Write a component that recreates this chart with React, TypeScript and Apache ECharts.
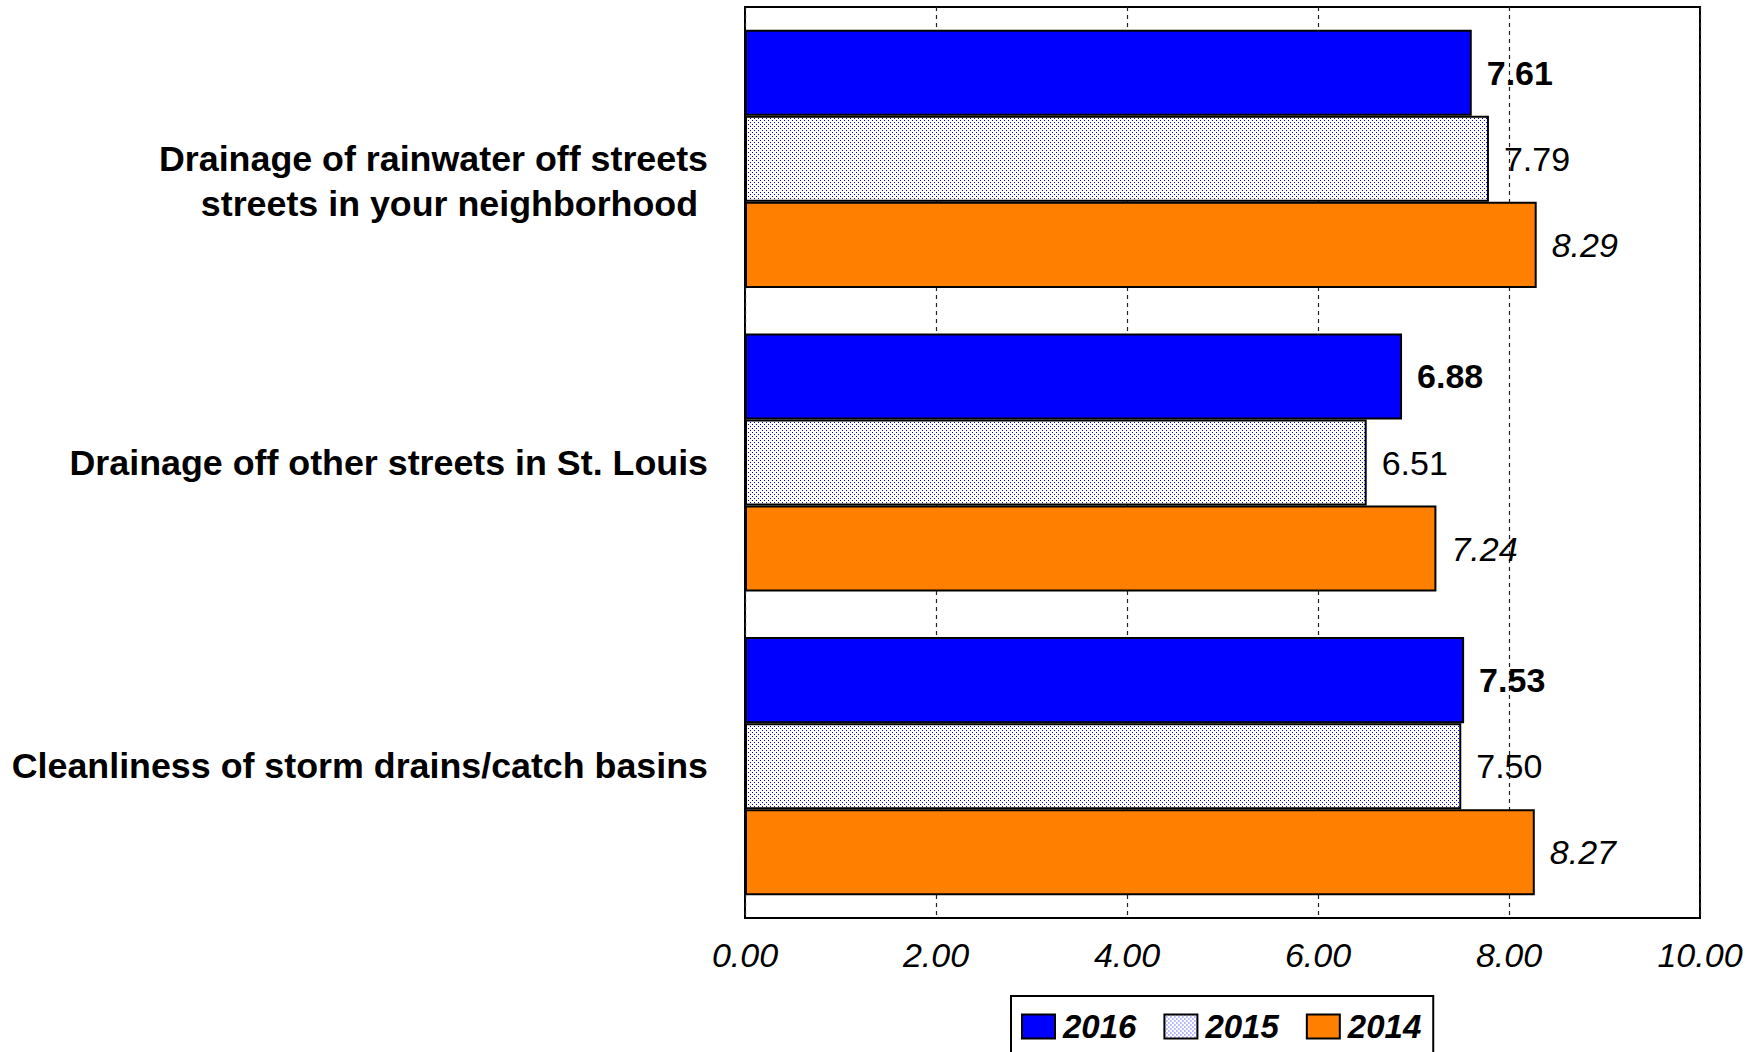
import React, { useEffect, useRef } from "react";
import * as echarts from "echarts";

const categories = [
  "Drainage of rainwater off streets\nstreets in your neighborhood ",
  "Drainage off other streets in St. Louis",
  "Cleanliness of storm drains/catch basins",
];
const seriesNames = ["2016", "2015", "2014"];
const values2016 = [7.61, 6.88, 7.53];
const values2015 = [7.79, 6.51, 7.5];
const values2014 = [8.29, 7.24, 8.27];
const axisTicks = [0, 2, 4, 6, 8, 10];

const FONT = "'Liberation Sans', Arial, sans-serif";

// small tile of staggered blue dots used as the 2015 fill
function makeDotPattern(): HTMLCanvasElement {
  const c = document.createElement("canvas");
  c.width = 4;
  c.height = 4;
  const ctx = c.getContext("2d")!;
  ctx.fillStyle = "#ffffff";
  ctx.fillRect(0, 0, 4, 4);
  ctx.fillStyle = "#0000ff";
  ctx.fillRect(0, 0, 1, 1);
  ctx.fillRect(2, 2, 1, 1);
  return c;
}

export default function App() {
  const ref = useRef<HTMLDivElement>(null);

  useEffect(() => {
    if (!ref.current) return;
    const chart = echarts.init(ref.current, null, { renderer: "svg" });
    const dots = makeDotPattern();

    const labelBase = {
      show: true,
      position: "right" as const,
      distance: 15,
      fontSize: 34,
      color: "#000",
      fontFamily: FONT,
      formatter: (p: any) => Number(p.value).toFixed(2),
    };

    chart.setOption({
      animation: false,
      backgroundColor: "#ffffff",
      textStyle: { fontFamily: FONT },
      grid: {
        left: 745,
        right: 60,
        top: 7,
        bottom: 134,
        show: true,
        borderColor: "#000",
        borderWidth: 2,
        backgroundColor: "transparent",
      },
      legend: {
        data: seriesNames,
        left: 1011,
        top: 996,
        orient: "horizontal",
        padding: [14, 12, 30, 10],
        borderColor: "#000",
        borderWidth: 2,
        itemGap: 27,
        itemWidth: 33,
        itemHeight: 24,
        icon: "rect",
        textStyle: {
          fontSize: 33,
          fontWeight: "bold",
          fontStyle: "italic",
          color: "#000",
          fontFamily: FONT,
          padding: [0, 0, 0, 3],
        },
      },
      xAxis: {
        type: "value",
        min: axisTicks[0],
        max: axisTicks[axisTicks.length - 1],
        interval: axisTicks[1] - axisTicks[0],
        axisLine: { show: false },
        axisTick: { show: false },
        axisLabel: {
          fontSize: 34,
          fontStyle: "italic",
          color: "#000",
          margin: 20,
          fontFamily: FONT,
          formatter: (v: number) => v.toFixed(2),
        },
        splitLine: {
          show: true,
          lineStyle: { color: "#222", width: 1.2, type: [4, 4] },
        },
      },
      yAxis: {
        type: "category",
        data: categories,
        inverse: true,
        axisLine: { show: false },
        axisTick: { show: false },
        axisLabel: {
          fontSize: 35.8,
          fontWeight: "bold",
          color: "#000",
          margin: 37,
          lineHeight: 45,
          fontFamily: FONT,
          // a two-line label keeps its first line on the band centre
          formatter: (v: string) => (v.includes("\n") ? "\n" + v : v),
        },
      },
      series: [
        {
          name: seriesNames[0],
          type: "bar",
          data: values2016,
          barGap: "0%",
          barCategoryGap: "15%",
          itemStyle: { color: "#0000ff", borderColor: "#000", borderWidth: 2 },
          label: { ...labelBase, fontWeight: "bold" },
        },
        {
          name: seriesNames[1],
          type: "bar",
          data: values2015,
          barGap: "0%",
          barCategoryGap: "15%",
          itemStyle: {
            color: { image: dots, repeat: "repeat", imageWidth: 4, imageHeight: 4 },
            borderColor: "#000",
            borderWidth: 2,
          },
          label: { ...labelBase, fontWeight: "normal" },
        },
        {
          name: seriesNames[2],
          type: "bar",
          data: values2014,
          barGap: "0%",
          barCategoryGap: "15%",
          itemStyle: { color: "#ff8000", borderColor: "#000", borderWidth: 2 },
          label: { ...labelBase, fontWeight: "normal", fontStyle: "italic" },
        },
      ],
    });

    return () => chart.dispose();
  }, []);

  return (
    <div
      ref={ref}
      style={{ position: "fixed", left: 0, top: 0, width: 1760, height: 1052, background: "#fff" }}
    />
  );
}
